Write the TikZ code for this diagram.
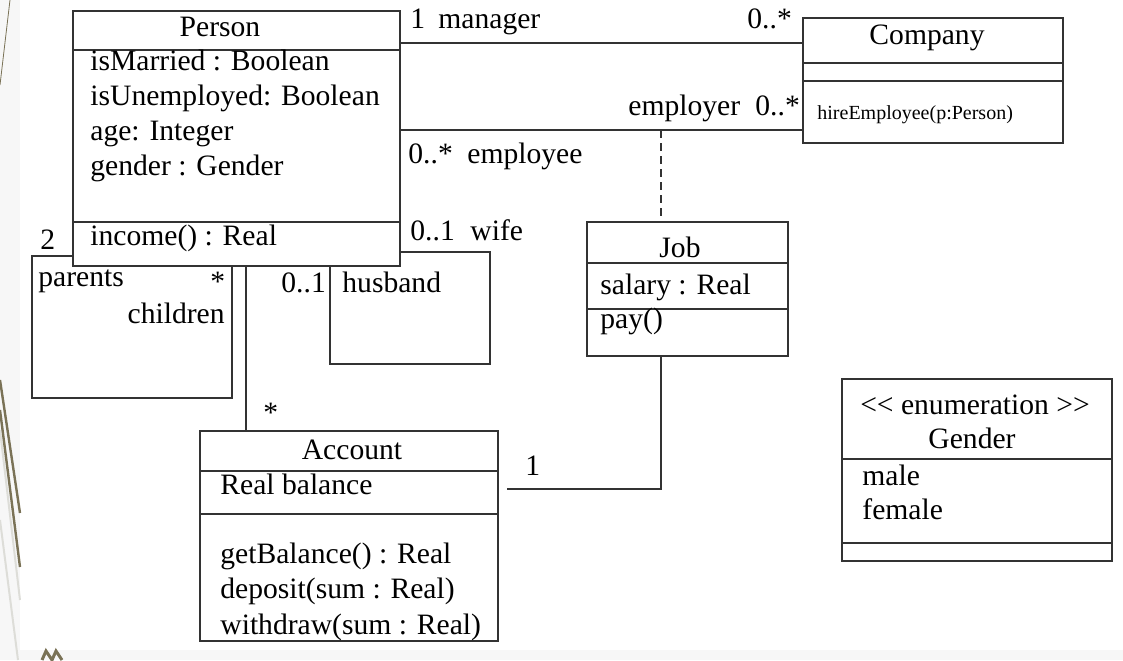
\documentclass[tikz,border=0pt]{standalone}
\usepackage{fontspec}
\setmainfont{Liberation Serif}
\usetikzlibrary{fit}
\definecolor{boxline}{HTML}{333333}
\definecolor{stripe}{HTML}{7A7256}
\definecolor{paleline}{HTML}{DDDDD8}
\tikzset{
  classbox/.style={draw=boxline, thick, inner sep=0pt, fit={#1}},
  divider/.style={draw=boxline, thick},
  assoc/.style={draw=boxline, thick},
  classname/.style={anchor=base, inner sep=0pt},
  member/.style={anchor=base west, inner sep=0pt},
  role/.style={anchor=base west, inner sep=0pt},
}
\begin{document}
\begin{tikzpicture}[x=0.5pt,y=-0.5pt,font=\fontsize{14.8}{17.5}\selectfont]
\useasboundingbox (0,0) rectangle (1123,660);
\fill[white] (0,0) rectangle (1123,660);
\fill[black!3] (0,0) rectangle (20,660);
\fill[black!3] (0,650) rectangle (1123,660);
% slide background strokes
\draw[stripe, line width=0.4pt] (10,0) -- (0,85);
\draw[paleline, line width=1pt] (0,430) -- (20,600);
\draw[paleline, line width=1pt] (0,520) -- (18,660);
\draw[stripe, line width=1.2pt] (0,380) -- (20,513);
\draw[stripe, line width=1.2pt] (0,410) -- (20,567);
\draw[stripe, line width=1.5pt] (42,660) -- (46,651) -- (52,660) -- (56,651) -- (62,660);

% Person
\node[classbox={(73,11) (400,266)}] (person) {};
\draw[divider] (person.west |- 0,50) -- (person.east |- 0,50);
\draw[divider] (person.west |- 0,222) -- (person.east |- 0,222);
\node[classname] (personname) at (220,36) {Person};
\node[member] (married) at (90,70) {isMarried : Boolean};
\node[member] (unemployed) at (90,105) {isUnemployed: Boolean};
\node[member] (age) at (90,140) {age: Integer};
\node[member] (gender) at (90,175) {gender : Gender};
\node[member] (income) at (90,245) {income() : Real};

% Company
\node[classbox={(803,18) (1063,143)}] (company) {};
\draw[divider] (company.west |- 0,63) -- (company.east |- 0,63);
\draw[divider] (company.west |- 0,81) -- (company.east |- 0,81);
\node[classname] (companyname) at (927,44) {Company};
\node[member, font=\fontsize{10}{12}\selectfont] (hire) at (817,119) {hireEmployee(p:Person)};

% Job
\node[classbox={(587,222) (788,356)}] (job) {};
\draw[divider] (job.west |- 0,263) -- (job.east |- 0,263);
\draw[divider] (job.west |- 0,309) -- (job.east |- 0,309);
\node[classname] (jobname) at (680,257) {Job};
\node[member] (salary) at (600,294) {salary : Real};
\node[member] (pay) at (600,328) {pay()};

% Account
\node[classbox={(200,431) (498,641)}] (account) {};
\draw[divider] (account.west |- 0,471) -- (account.east |- 0,471);
\draw[divider] (account.west |- 0,514) -- (account.east |- 0,514);
\node[classname] (accountname) at (352,459) {Account};
\node[member] (balance) at (220,494) {Real balance};
\node[member] (getbalance) at (220,563) {getBalance() : Real};
\node[member] (deposit) at (220,598) {deposit(sum : Real)};
\node[member] (withdraw) at (220,634) {withdraw(sum : Real)};

% Gender enumeration
\node[classbox={(842,379) (1112,561)}] (genderenum) {};
\draw[divider] (genderenum.west |- 0,459) -- (genderenum.east |- 0,459);
\draw[divider] (genderenum.west |- 0,543) -- (genderenum.east |- 0,543);
\node[classname] (stereo) at (975,414) {{<}{<} enumeration {>}{>}};
\node[classname] (gendername) at (972,448) {Gender};
\node[member] (male) at (862,485) {male};
\node[member] (female) at (862,519) {female};

% associations
\draw[assoc] (person.east |- 0,43) -- (company.west |- 0,43);
\draw[assoc] (person.east |- 0,130) -- (company.west |- 0,130);
\coordinate (jobassoc) at (661,130);
\draw[assoc, dash pattern=on 4pt off 2.5pt] (jobassoc) -- (jobassoc |- job.north);
\coordinate (accountend) at (507,489);
\draw[assoc] (jobassoc |- job.south) -- (jobassoc |- accountend) -- (accountend);
\draw[assoc] (person.south -| 246,0) -- (account.north -| 246,0);
\draw[assoc] (person.west |- 0,256) -- (32,256) -- (32,398) -- (232,398) -- (person.south -| 232,0);
\draw[assoc] (person.east |- 0,252) -- (490,252) -- (490,364) -- (330,364) -- (person.south -| 330,0);

% multiplicities and roles
\node[role] (mgrmult) at (410,28) {1};
\node[role] (mgrrole) at (438,28) {manager};
\node[role] (compmult) at (747,28) {0..*};
\node[role] (emprrole) at (628,115) {employer};
\node[role] (emprmult) at (755,115) {0..*};
\node[role] (empemult) at (408,163) {0..*};
\node[role] (empeerole) at (467,163) {employee};
\node[role] (wifemult) at (410,240) {0..1};
\node[role] (wiferole) at (470,240) {wife};
\node[role] (parmult) at (40,249) {2};
\node[role] (parrole) at (38,286) {parents};
\node[role] (childmult) at (210,291) {*};
\node[role, anchor=base east] (childrole) at (225,323) {children};
\node[role] (husbmult) at (281,292) {0..1};
\node[role] (husbrole) at (342,292) {husband};
\node[role] (acctmult) at (263,422) {*};
\node[role] (jobmult) at (525,475) {1};
\end{tikzpicture}
\end{document}
